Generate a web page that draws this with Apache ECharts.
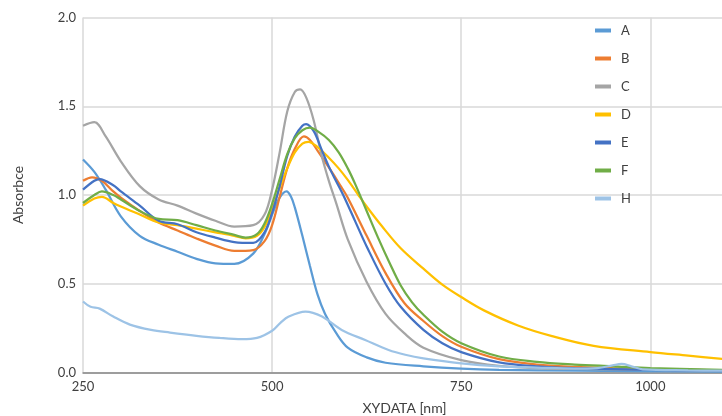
<!DOCTYPE html>
<html>
<head>
<meta charset="utf-8">
<script src="https://cdn.jsdelivr.net/npm/echarts@6/dist/echarts.min.js"></script>
<style>
  html, body { margin: 0; padding: 0; background: #fff; }
  #chart { width: 722px; height: 416px; }
</style>
</head>
<body>
<div id="chart"></div>
<script>
// [wavelength nm, absorbance]
var seriesNames = ['A', 'B', 'C', 'D', 'E', 'F', 'H'];
var colors = ['#5B9BD5', '#ED7D31', '#A5A5A5', '#FFC000', '#4472C4', '#70AD47', '#9DC3E6'];

var dataA = [[250,1.20],[265,1.13],[280,1.03],[300,0.88],[325,0.77],[350,0.72],[375,0.68],[400,0.64],[425,0.615],[450,0.612],[475,0.67],[490,0.78],[500,0.89],[510,0.985],[519,1.02],[525,0.99],[530,0.93],[540,0.77],[550,0.60],[560,0.44],[570,0.33],[585,0.22],[600,0.14],[625,0.085],[650,0.055],[700,0.035],[750,0.022],[800,0.015],[900,0.01],[1100,0.005]];
var dataB = [[250,1.08],[262,1.10],[275,1.08],[290,1.02],[300,0.985],[325,0.91],[350,0.845],[375,0.80],[400,0.755],[425,0.715],[450,0.685],[475,0.69],[490,0.74],[500,0.83],[510,0.99],[520,1.15],[530,1.26],[542,1.33],[550,1.31],[560,1.25],[575,1.155],[590,1.055],[600,0.985],[625,0.77],[650,0.56],[675,0.39],[700,0.29],[725,0.205],[750,0.145],[800,0.075],[850,0.045],[900,0.032],[950,0.025],[1000,0.02],[1100,0.012]];
var dataC = [[250,1.39],[265,1.41],[280,1.33],[300,1.19],[325,1.05],[350,0.975],[375,0.94],[400,0.895],[425,0.855],[450,0.822],[475,0.83],[490,0.89],[500,1.03],[510,1.24],[520,1.47],[530,1.58],[537,1.595],[545,1.55],[555,1.42],[565,1.23],[575,1.08],[585,0.95],[600,0.75],[625,0.51],[650,0.33],[675,0.22],[700,0.14],[750,0.07],[800,0.037],[850,0.025],[900,0.02],[1000,0.015],[1100,0.01]];
var dataD = [[250,0.94],[265,0.98],[275,0.99],[290,0.955],[300,0.935],[325,0.89],[350,0.845],[375,0.83],[400,0.81],[425,0.79],[450,0.77],[465,0.756],[480,0.77],[490,0.82],[500,0.92],[510,1.04],[520,1.15],[530,1.24],[540,1.29],[548,1.30],[560,1.27],[575,1.21],[588,1.15],[600,1.085],[614,1.0],[625,0.935],[645,0.825],[670,0.70],[700,0.585],[725,0.495],[750,0.425],[780,0.35],[825,0.265],[870,0.205],[925,0.15],[1000,0.115],[1050,0.095],[1100,0.075]];
var dataE = [[250,1.03],[265,1.08],[272,1.09],[290,1.055],[300,1.02],[325,0.94],[350,0.855],[375,0.835],[400,0.79],[425,0.76],[450,0.735],[475,0.73],[490,0.79],[500,0.90],[510,1.05],[520,1.22],[530,1.33],[540,1.39],[545,1.40],[555,1.36],[565,1.26],[575,1.16],[585,1.075],[594,1.0],[610,0.85],[625,0.71],[650,0.50],[670,0.37],[700,0.24],[725,0.165],[750,0.115],[800,0.057],[850,0.035],[900,0.025],[1000,0.015],[1100,0.01]];
var dataF = [[250,0.955],[265,1.0],[275,1.02],[290,1.0],[300,0.975],[325,0.91],[350,0.865],[375,0.858],[400,0.83],[425,0.80],[450,0.775],[465,0.76],[480,0.78],[490,0.84],[500,0.95],[510,1.09],[520,1.23],[530,1.32],[540,1.365],[550,1.38],[560,1.36],[575,1.31],[588,1.24],[600,1.15],[610,1.06],[625,0.91],[640,0.76],[655,0.62],[670,0.49],[685,0.395],[700,0.325],[725,0.23],[750,0.165],[800,0.09],[850,0.06],[900,0.045],[950,0.035],[1000,0.025],[1100,0.015]];
var dataH = [[250,0.40],[260,0.37],[272,0.36],[290,0.315],[312,0.27],[340,0.24],[365,0.225],[400,0.207],[430,0.195],[460,0.188],[480,0.195],[500,0.235],[511,0.28],[522,0.315],[544,0.343],[566,0.315],[592,0.24],[623,0.183],[654,0.127],[676,0.10],[700,0.08],[750,0.052],[800,0.035],[850,0.028],[900,0.022],[930,0.025],[950,0.04],[962,0.048],[975,0.035],[990,0.018],[1050,0.012],[1100,0.01]];

var allData = [dataA, dataB, dataC, dataD, dataE, dataF, dataH];

var chartDom = document.getElementById('chart');
var myChart = echarts.init(chartDom);

var series = [];
for (var i = 0; i < seriesNames.length; i++) {
  series.push({
    name: seriesNames[i],
    type: 'line',
    smooth: 0.35,
    symbol: 'none',
    data: allData[i],
    lineStyle: { width: 2.25, color: colors[i] },
    itemStyle: { color: colors[i] }
  });
}

var font = 'Lato, "Open Sans", sans-serif';
var option = {
  animation: false,
  textStyle: { fontFamily: font },
  grid: { left: 83, right: -4, top: 17.5, bottom: 43.5, outerBoundsMode: 'none' },
  legend: {
    orient: 'vertical',
    left: 595,
    top: 24,
    padding: 0,
    itemWidth: 16,
    itemHeight: 4,
    itemGap: 15,
    icon: 'rect',
    data: seriesNames,
    textStyle: { fontSize: 13, color: '#404040', fontFamily: font, padding: [0, 0, 0, 5] }
  },
  xAxis: {
    type: 'value',
    min: 250,
    max: 1100,
    interval: 250,
    name: 'XYDATA [nm]',
    nameLocation: 'middle',
    nameGap: 29,
    nameTextStyle: { fontSize: 14, color: '#404040', fontFamily: font },
    axisLine: { show: true, lineStyle: { color: '#868686', width: 1.5 } },
    axisTick: { show: false },
    axisLabel: {
      fontSize: 13, color: '#404040', fontFamily: font, margin: 8, showMaxLabel: false,
      formatter: function (v) { return String(v); }
    },
    splitLine: { show: true, lineStyle: { color: '#d9d9d9', width: 1.5 } }
  },
  yAxis: {
    type: 'value',
    min: 0,
    max: 2,
    interval: 0.5,
    name: 'Absorbce',
    nameLocation: 'middle',
    nameGap: 58,
    nameTextStyle: { fontSize: 14, color: '#404040', fontFamily: font },
    axisLine: { show: false },
    axisTick: { show: false },
    axisLabel: {
      fontSize: 13, color: '#404040', fontFamily: font, margin: 7,
      formatter: function (v) { return v.toFixed(1); }
    },
    splitLine: { show: true, lineStyle: { color: '#d9d9d9', width: 1.5 } }
  },
  series: series
};

option && myChart.setOption(option);
</script>
</body>
</html>
